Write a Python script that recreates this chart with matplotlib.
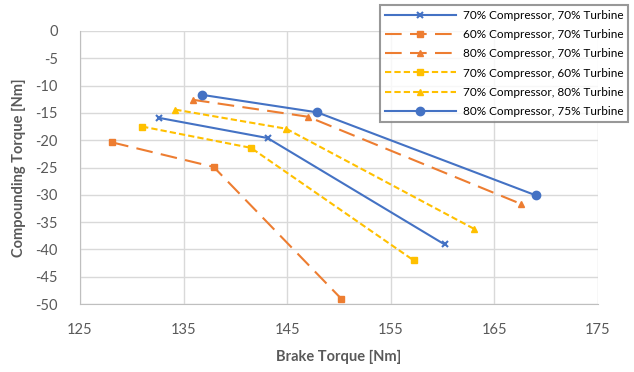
import matplotlib
matplotlib.use("Agg")
import matplotlib.pyplot as plt

plt.rcParams['font.family'] = ['Lato', 'DejaVu Sans']
plt.rcParams['axes.unicode_minus'] = False

labels = [
    '70% Compressor, 70% Turbine',
    '60% Compressor, 70% Turbine',
    '80% Compressor, 70% Turbine',
    '70% Compressor, 60% Turbine',
    '70% Compressor, 80% Turbine',
    '80% Compressor, 75% Turbine',
]

# brake torque [Nm] and compounding torque [Nm]
brake = [
    [132.6, 143.1, 160.2],
    [128.1, 137.9, 150.2],
    [135.9, 147.0, 167.6],
    [131.0, 141.5, 157.2],
    [134.2, 144.9, 163.0],
    [136.8, 147.9, 169.0],
]
compound = [
    [-15.9, -19.6, -39.1],
    [-20.4, -24.9, -49.0],
    [-12.6, -15.7, -31.7],
    [-17.5, -21.4, -42.0],
    [-14.4, -17.9, -36.2],
    [-11.7, -14.9, -30.1],
]

blue = '#4472C4'
orange = '#ED7D31'
yellow = '#FFC000'
styles = [
    dict(color=blue, ls='-', marker='x', ms=4, mew=1.5),
    dict(color=orange, ls=(0, (8, 4)), marker='s', ms=5),
    dict(color=orange, ls=(0, (8, 4)), marker='^', ms=5),
    dict(color=yellow, ls=(0, (3, 1.5)), marker='s', ms=5),
    dict(color=yellow, ls=(0, (3, 1.5)), marker='^', ms=5),
    dict(color=blue, ls='-', marker='o', ms=6),
]

fig = plt.figure(figsize=(6.34, 3.72), dpi=100)
ax = fig.add_axes([80 / 634, 1 - 304 / 372, 518 / 634, 273 / 372])

for x, y, lab, st in zip(brake, compound, labels, styles):
    ax.plot(x, y, label=lab, lw=1.5, **st)

ax.set_xlim(125, 175)
ax.set_ylim(-50, 0)
ax.set_xticks(range(125, 176, 10))
ax.set_yticks(range(-50, 1, 5))
ax.grid(True, color='#D9D9D9', lw=1)
ax.set_axisbelow(True)
for s in ['top', 'right']:
    ax.spines[s].set_visible(False)
for s in ['left', 'bottom']:
    ax.spines[s].set_color('#BFBFBF')
ax.tick_params(length=0, labelsize=10.5, colors='#595959')
ax.tick_params(axis='x', pad=14)
ax.tick_params(axis='y', pad=16)

ax.set_xlabel('Brake Torque [Nm]', fontsize=10.5, fontweight='bold', color='#595959', labelpad=9)
ax.set_ylabel('Compounding Torque [Nm]', fontsize=10.5, fontweight='bold', color='#595959', labelpad=7)

leg = fig.legend(loc='upper left', bbox_to_anchor=(380 / 634, 1 - 5 / 372),
                 fontsize=8.5, handlelength=6, frameon=True, fancybox=False,
                 borderpad=0.4, labelspacing=0.7, handletextpad=0.6, borderaxespad=0)
leg.get_frame().set_edgecolor('#7F7F7F')
leg.get_frame().set_linewidth(1.5)

fig.savefig('out.png', dpi=100)
